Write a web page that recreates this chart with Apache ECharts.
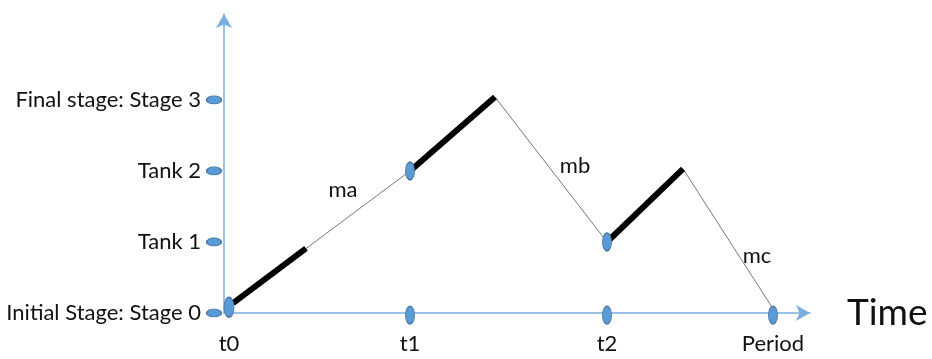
<!DOCTYPE html>
<html>
<head>
<meta charset="utf-8">
<script src="https://cdn.jsdelivr.net/npm/echarts@6/dist/echarts.min.js"></script>
<style>
  html, body { margin: 0; padding: 0; background: #fff; }
  #chart { width: 932px; height: 359px; }
</style>
</head>
<body>
<div id="chart"></div>
<script>
// stage levels on the vertical axis
const yLevels = [0, 1, 2, 3];
const yLabels = ["Initial Stage: Stage 0", "Tank 1", "Tank 2", "Final stage: Stage 3"];

// time marks on the horizontal axis
const xTicks = [0.5, 18.6, 38.3, 54.9];
const xLabels = ["t0", "t1", "t2", "Period"];

// full path (thin line)
const pathX = [0.9, 18.6, 27.1, 38.3, 45.9, 54.9];
const pathY = [0.14, 2, 3.04, 1, 2.03, 0.06];

// thick parts of the path
const thickA = [[0.9, 0.14], [8.2, 0.91]];
const thickB = [[18.6, 2], [27.1, 3.04]];
const thickC = [[38.3, 1], [45.9, 2.03]];

// ellipse markers on the path
const pathMarkX = [0.5, 18.6, 38.3];
const pathMarkY = [0.08, 2, 1];

// rate labels
const noteX = [11.9, 35.1, 53.3];
const noteY = [1.73, 2.06, 0.8];
const noteText = ["ma", "mb", "mc"];

const blue = "#5b9bd5";
const blueDark = "#41719c";
const axisBlue = "#7aaede";
const font = "Lato";
const textColor = "#111";

function pickLabel(list, labels, v) {
  for (let i = 0; i < list.length; i++) {
    if (Math.abs(list[i] - v) < 1e-6) return labels[i];
  }
  return "";
}

const chart = echarts.init(document.getElementById("chart"));

const option = {
  animation: false,
  grid: { left: 224, right: 122, top: 14, bottom: 46 },
  xAxis: {
    type: "value",
    min: 0,
    max: 58.6,
    name: "Time",
    nameLocation: "end",
    nameGap: 37,
    nameTextStyle: { fontFamily: font, fontSize: 37, color: textColor, padding: [0, 0, 14, 0] },
    splitLine: { show: false },
    axisTick: { show: false },
    axisLine: {
      lineStyle: { color: axisBlue, width: 1.5 },
      symbol: ["none", "arrow"],
      symbolSize: [12, 14]
    },
    axisLabel: {
      customValues: xTicks,
      formatter: function (v) { return pickLabel(xTicks, xLabels, v); },
      margin: 20,
      fontFamily: font,
      fontSize: 22,
      color: textColor
    }
  },
  yAxis: {
    type: "value",
    min: 0,
    max: 4.21,
    splitLine: { show: false },
    axisTick: { show: false },
    axisLine: {
      show: true,
      lineStyle: { color: axisBlue, width: 1.5 },
      symbol: ["none", "arrow"],
      symbolSize: [12, 14]
    },
    axisLabel: {
      customValues: yLevels,
      formatter: function (v) { return pickLabel(yLevels, yLabels, v); },
      margin: 23,
      fontFamily: font,
      fontSize: 22,
      color: textColor
    }
  },
  series: [
    {
      type: "line",
      data: pathX.map(function (x, i) { return [x, pathY[i]]; }),
      symbol: "none",
      lineStyle: { color: "#777", width: 1 },
      z: 2
    },
    {
      type: "line",
      data: thickA,
      symbol: "none",
      lineStyle: { color: "#000", width: 6 },
      z: 3
    },
    {
      type: "line",
      data: thickB,
      symbol: "none",
      lineStyle: { color: "#000", width: 6 },
      z: 3
    },
    {
      type: "line",
      data: thickC,
      symbol: "none",
      lineStyle: { color: "#000", width: 6 },
      z: 3
    },
    {
      // markers on the vertical axis
      type: "scatter",
      clip: false,
      data: yLevels.map(function (y) { return [-1.0, y]; }),
      symbol: "circle",
      symbolSize: [15, 8],
      itemStyle: { color: blue, borderColor: blueDark, borderWidth: 1, opacity: 1 },
      z: 5
    },
    {
      // markers on the horizontal axis
      type: "scatter",
      clip: false,
      data: xTicks.slice(1).map(function (x) { return [x, -0.03]; }),
      symbol: "circle",
      symbolSize: [9, 18],
      itemStyle: { color: blue, borderColor: blueDark, borderWidth: 1, opacity: 1 },
      z: 5
    },
    {
      // markers on the path
      type: "scatter",
      clip: false,
      data: pathMarkX.map(function (x, i) { return [x, pathMarkY[i]]; }),
      symbol: "circle",
      symbolSize: function (v, p) { return p.dataIndex === 0 ? [10, 20] : [9, 18]; },
      itemStyle: { color: blue, borderColor: blueDark, borderWidth: 1, opacity: 1 },
      z: 6
    },
    {
      type: "scatter",
      clip: false,
      silent: true,
      data: noteX.map(function (x, i) { return { value: [x, noteY[i]], name: noteText[i] }; }),
      symbolSize: 1,
      itemStyle: { color: "rgba(0,0,0,0)", opacity: 1 },
      label: {
        show: true,
        position: "top",
        distance: -11,
        formatter: "{b}",
        fontFamily: font,
        fontSize: 22,
        color: textColor,
        textBorderWidth: 0
      },
      z: 7
    }
  ]
};

chart.setOption(option);
</script>
</body>
</html>
